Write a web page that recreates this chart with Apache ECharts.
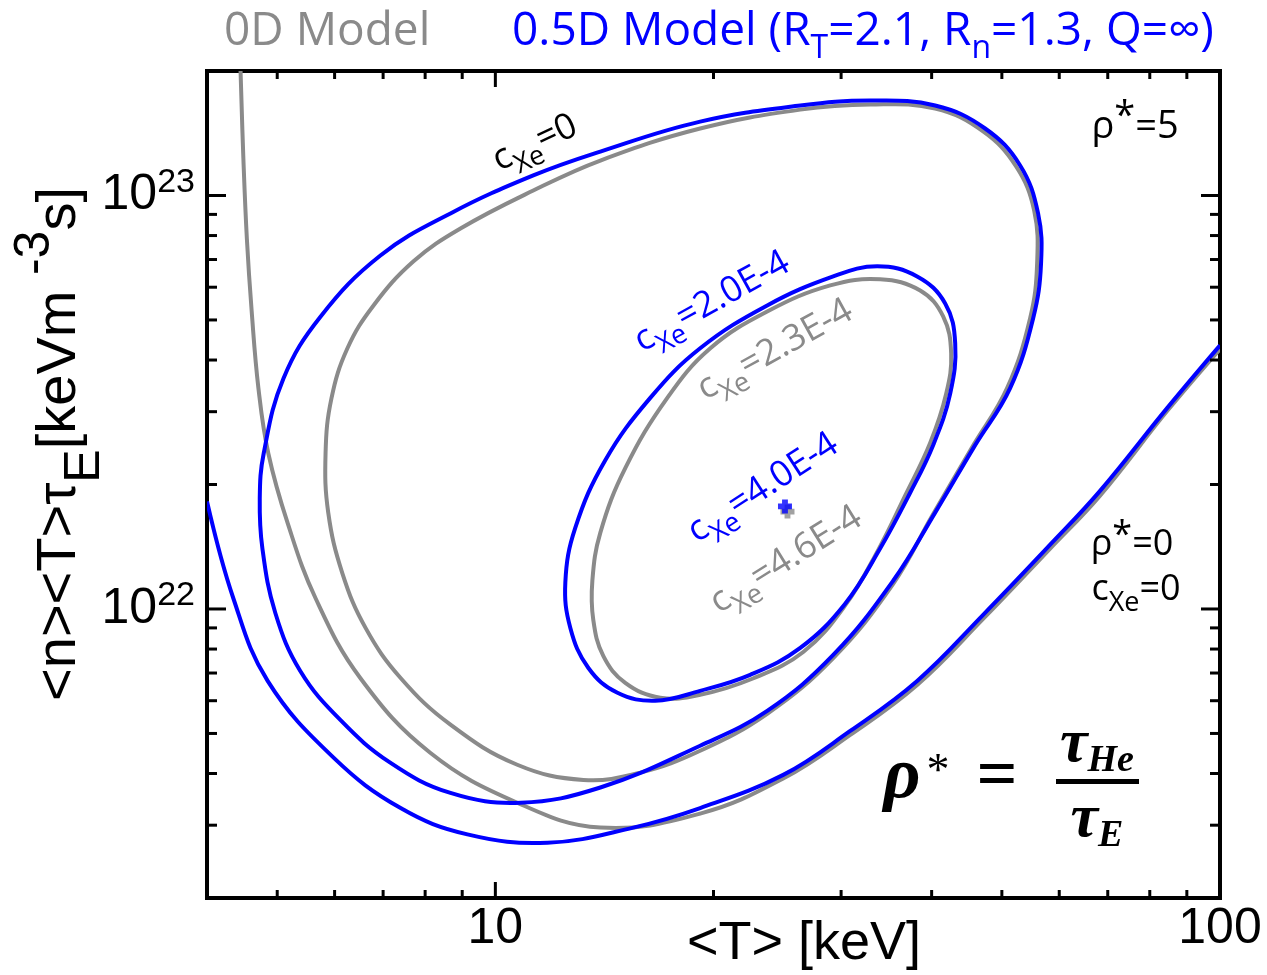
<!DOCTYPE html>
<html><head><meta charset="utf-8">
<script src="https://cdn.jsdelivr.net/npm/echarts@6/dist/echarts.min.js"></script>
<style>html,body{margin:0;padding:0;background:#fff}#c{width:1267px;height:975px}</style>
</head><body><div id="c"></div>
<script>
// ---------------- data (T in keV, n<T>tau_E in keV m^-3 s) ----------------
const blueRho0 = [[4.00,1.82e22],[4.35,1.06e22],[4.85,6.70e21],[5.98,4.37e21],[7.40,3.30e21],[9.15,2.85e21],[11.80,2.72e21],[15.50,2.96e21],[19.17,3.30e21],[24.96,3.97e21],[30.88,5.07e21],[38.20,6.70e21],[47.11,9.68e21],[58.29,1.43e22],[68.31,1.93e22],[84.53,3.06e22],[100,4.34e22]];
const grayRho0 = [[4.45,2.0e23],[4.49,1.23e23],[4.54,7.87e22],[4.61,5.25e22],[4.71,3.42e22],[4.86,2.38e22],[5.17,1.61e22],[5.65,1.06e22],[6.51,6.81e21],[8.13,4.49e21],[10.72,3.40e21],[13.96,2.96e21],[19.17,3.20e21],[24.96,3.89e21],[30.88,4.96e21],[38.20,6.55e21],[47.11,9.46e21],[58.29,1.40e22],[68.31,1.88e22],[84.53,3.01e22],[100,4.25e22]];
const blueRho5 = [[11.28,1.118e23],[13.96,1.277e23],[19.17,1.509e23],[26.35,1.650e23],[32.91,1.696e23],[40.45,1.650e23],[47.41,1.452e23],[52.99,1.182e23],[56.10,9.05e22],[56.63,6.85e22],[55.23,5.05e22],[51.33,3.42e22],[45.93,2.49e22],[40.45,1.71e22],[35.40,1.17e22],[29.26,7.74e21],[23.72,5.67e21],[19.17,4.67e21],[13.96,3.70e21],[10.83,3.40e21],[8.67,3.59e21],[7.16,4.25e21],[6.11,5.39e21],[5.38,7.08e21],[4.97,9.78e21],[4.77,1.40e22],[4.73,1.85e22],[4.79,2.38e22],[5.10,3.61e22],[5.74,5.10e22],[6.94,7.16e22],[8.67,9.05e22],[11.28,1.118e23]];
const grayRho5 = [[11.28,1.028e23],[13.96,1.215e23],[19.17,1.452e23],[26.35,1.613e23],[32.91,1.659e23],[40.45,1.622e23],[47.11,1.428e23],[52.32,1.175e23],[55.40,9.20e22],[55.93,6.85e22],[54.70,5.05e22],[50.84,3.42e22],[45.49,2.46e22],[40.07,1.68e22],[35.40,1.15e22],[29.26,7.61e21],[23.72,5.58e21],[19.17,4.54e21],[15.85,4.02e21],[13.23,3.86e21],[10.72,4.20e21],[8.67,5.25e21],[7.40,6.81e21],[6.62,9.00e21],[6.15,1.22e22],[5.88,1.71e22],[5.83,2.38e22],[5.94,3.23e22],[6.25,4.27e22],[6.79,5.42e22],[7.71,6.93e22],[8.95,8.32e22],[11.28,1.028e23]];
const blueXe20 = [[16.36,3.24e22],[19.17,4.27e22],[23.72,5.42e22],[29.26,6.37e22],[33.65,6.74e22],[38.20,6.37e22],[41.76,5.48e22],[43.11,4.39e22],[42.43,3.32e22],[40.19,2.49e22],[37.36,1.91e22],[33.96,1.40e22],[30.39,1.03e22],[26.35,8.05e21],[22.47,6.93e21],[19.17,6.34e21],[16.62,6.00e21],[14.74,6.27e21],[13.44,7.20e21],[12.69,9.00e21],[12.49,1.16e22],[12.89,1.57e22],[14.18,2.29e22],[16.36,3.24e22]];
const grayXe23 = [[17.27,3.24e22],[19.80,4.27e22],[23.72,5.24e22],[28.98,6.06e22],[33.96,6.27e22],[38.57,5.89e22],[41.49,5.10e22],[42.56,4.15e22],[41.90,3.32e22],[39.81,2.52e22],[36.77,1.88e22],[33.76,1.39e22],[30.39,1.02e22],[26.6,7.87e21],[22.62,6.78e21],[19.17,6.20e21],[16.89,6.10e21],[15.11,6.63e21],[14.09,7.70e21],[13.65,9.41e21],[13.61,1.17e22],[13.96,1.53e22],[15.11,2.19e22],[17.27,3.24e22]];
const blueCross = [[25.1,1.77e22]];
const grayCross = [[25.3,1.72e22]];

const xRange = [4, 100];
const yRange = [2e21, 2e23];
const xTickMajor = [10, 100];
const xTickLabels = ['10', '100'];
const xTickMinor = [5,6,7,8,9,20,30,40,50,60,70,80,90];
const yTickMajor = [1e22, 1e23];
const yTickBase = ['10', '10'];
const yTickExp = ['22', '23'];
const yTickMinor = [3e21,4e21,5e21,6e21,7e21,8e21,9e21,2e22,3e22,4e22,5e22,6e22,7e22,8e22,9e22];

// ---------------- styling ----------------
const BLUE = '#0000ff', GRAY = '#8a8a8a', BLACK = '#000000';
const AX = "'Liberation Sans', Arial, sans-serif";
const LF = "'Open Sans', 'Noto Sans', sans-serif";
const SERIF = "'Liberation Serif', 'DejaVu Serif', serif";
const PLUS = 'path://M3.5,0h5v3.5h3.5v5h-3.5v3.5h-5v-3.5h-3.5v-5h3.5z';

const tickSpecs = [];
xTickMajor.forEach(v => tickSpecs.push({a: 'x', v, len: 16}));
xTickMinor.forEach(v => tickSpecs.push({a: 'x', v, len: 8}));
yTickMajor.forEach(v => tickSpecs.push({a: 'y', v, len: 19}));
yTickMinor.forEach(v => tickSpecs.push({a: 'y', v, len: 10}));

function near(a, b) { return Math.abs(Math.log10(a) - Math.log10(b)) < 1e-6; }

function lbl(x, y, deg, text, color, size, sub) {
  return {
    type: 'text', x, y, rotation: deg * Math.PI / 180, silent: true, z: 50,
    style: {
      text, fill: color, fontSize: size, fontFamily: LF, lineHeight: Math.round(size * 1.5),
      align: 'center', verticalAlign: 'middle',
      rich: {
        s: {fontSize: sub, fontFamily: LF, fill: color, lineHeight: sub, verticalAlign: 'bottom'},
        p: {fontSize: size, fontFamily: LF, fill: color, lineHeight: Math.round(size * 1.1), verticalAlign: 'top'}
      }
    }
  };
}

// Smooth curve drawn through the data points, positioned by the chart's own log axes (api.coord).
function curveSeries(name, data, color, closed, z) {
  return {
    name, type: 'custom', data, silent: true, z, clip: true,
    renderItem: (params, api) => {
      if (params.dataIndex !== 0) return null;
      let pts = data.map(p => api.coord(p));
      if (closed) pts = pts.slice(0, -1);
      return {
        type: closed ? 'polygon' : 'polyline',
        shape: {points: pts, smooth: 0.4},
        style: {stroke: color, lineWidth: 4, fill: 'none', lineJoin: 'round'}
      };
    }
  };
}

const chart = echarts.init(document.getElementById('c'), null, {renderer: 'canvas'});
chart.setOption({
  animation: false,
  backgroundColor: '#ffffff',
  grid: {left: 207, top: 71, width: 1013, height: 827, show: true, borderColor: '#000', borderWidth: 4, backgroundColor: 'transparent'},
  xAxis: {
    type: 'log', logBase: 10, min: xRange[0], max: xRange[1],
    axisLine: {show: false}, axisTick: {show: false}, splitLine: {show: false}, minorTick: {show: false},
    axisLabel: {
      margin: 6, fontSize: 50, fontFamily: AX, color: '#000',
      formatter: v => { const i = xTickMajor.findIndex(t => near(t, v)); return i >= 0 ? xTickLabels[i] : ''; }
    }
  },
  yAxis: {
    type: 'log', logBase: 10, min: yRange[0], max: yRange[1],
    axisLine: {show: false}, axisTick: {show: false}, splitLine: {show: false}, minorTick: {show: false},
    axisLabel: {
      margin: 12,
      formatter: v => { const i = yTickMajor.findIndex(t => near(t, v)); return i >= 0 ? '{b|' + yTickBase[i] + '}{s|' + yTickExp[i] + '}' : ''; },
      rich: {
        b: {fontSize: 50, fontFamily: AX, color: '#000', lineHeight: 60},
        s: {fontSize: 34, fontFamily: AX, color: '#000', lineHeight: 18, verticalAlign: 'top'}
      }
    }
  },
  series: [
    curveSeries('0D rho*=0', grayRho0, GRAY, false, 3),
    curveSeries('0D rho*=5', grayRho5, GRAY, true, 3),
    curveSeries('0D cXe=2.3E-4', grayXe23, GRAY, true, 3),
    curveSeries('0.5D rho*=0', blueRho0, BLUE, false, 4),
    curveSeries('0.5D rho*=5', blueRho5, BLUE, true, 4),
    curveSeries('0.5D cXe=2.0E-4', blueXe20, BLUE, true, 4),
    {type: 'scatter', data: grayCross, symbol: PLUS, symbolSize: 14, itemStyle: {color: GRAY}, silent: true, z: 5},
    {type: 'scatter', data: blueCross, symbol: PLUS, symbolSize: 14, itemStyle: {color: BLUE}, silent: true, z: 6},
    {
      type: 'custom', silent: true, z: 10, clip: false,
      data: tickSpecs.map(t => t.a === 'x' ? [t.v, yRange[0]] : [xRange[0], t.v]),
      renderItem: (params, api) => {
        const t = tickSpecs[params.dataIndex];
        const st = {stroke: '#000', lineWidth: 3};
        if (t.a === 'x') {
          const b = api.coord([t.v, yRange[0]]), tp = api.coord([t.v, yRange[1]]);
          return {type: 'group', children: [
            {type: 'line', shape: {x1: b[0], y1: b[1], x2: b[0], y2: b[1] - t.len}, style: st},
            {type: 'line', shape: {x1: tp[0], y1: tp[1], x2: tp[0], y2: tp[1] + t.len}, style: st}
          ]};
        }
        const l = api.coord([xRange[0], t.v]), r = api.coord([xRange[1], t.v]);
        return {type: 'group', children: [
          {type: 'line', shape: {x1: l[0], y1: l[1], x2: l[0] + t.len, y2: l[1]}, style: st},
          {type: 'line', shape: {x1: r[0], y1: r[1], x2: r[0] - t.len, y2: r[1]}, style: st}
        ]};
      }
    }
  ],
  graphic: {elements: [
    // titles
    {type: 'text', x: 224, y: 32, silent: true, style: {text: '0D Model', fill: GRAY, fontSize: 46, fontFamily: LF, align: 'left', verticalAlign: 'middle'}},
    {type: 'text', x: 512, y: 32, silent: true, style: {
      text: '0.5D Model (R{s|T}=2.1, R{s|n}=1.3, Q=∞)', fill: BLUE, fontSize: 46, fontFamily: LF, lineHeight: 66,
      align: 'left', verticalAlign: 'middle',
      rich: {s: {fontSize: 32, fontFamily: LF, fill: BLUE, lineHeight: 32, verticalAlign: 'bottom'}}
    }},
    // axis titles
    {type: 'text', x: 804, y: 944, silent: true, style: {text: '<T> [keV]', fill: '#000', fontSize: 54, fontFamily: AX, align: 'center', verticalAlign: 'middle'}},
    {type: 'text', x: 60, y: 444, rotation: Math.PI / 2, silent: true, style: {
      text: '<n><T>τ{e|E}[keVm {p|-3}s]', fill: '#000', fontSize: 56, fontFamily: AX, lineHeight: 100,
      align: 'center', verticalAlign: 'middle',
      rich: {
        e: {fontSize: 50, fontFamily: AX, fill: '#000', lineHeight: 52, verticalAlign: 'bottom'},
        p: {fontSize: 50, fontFamily: AX, fill: '#000', lineHeight: 40, verticalAlign: 'top'}
      }
    }},
    // curve labels
    lbl(535, 143, 25, 'c{s|Xe}=0', BLACK, 36, 27),
    lbl(712, 302, 29, 'c{s|Xe}=2.0E-4', BLUE, 36, 27),
    lbl(775, 350, 29, 'c{s|Xe}=2.3E-4', GRAY, 36, 27),
    lbl(763, 488, 33, 'c{s|Xe}=4.0E-4', BLUE, 36, 27),
    lbl(786, 560, 32, 'c{s|Xe}=4.6E-4', GRAY, 36, 27),
    lbl(1135, 127, 0, 'ρ{p|*}=5', BLACK, 38, 28),
    lbl(1132, 545, 0, 'ρ{p|*}=0', BLACK, 36, 27),
    lbl(1136, 590, 0, 'c{s|Xe}=0', BLACK, 36, 27),
    // formula rho* = tau_He / tau_E
    {type: 'text', x: 902, y: 778, silent: true, style: {text: 'ρ', fill: '#000', fontSize: 72, fontFamily: SERIF, fontWeight: 'bold', fontStyle: 'italic', align: 'center', verticalAlign: 'middle'}},
    {type: 'text', x: 938, y: 773, silent: true, style: {text: '*', fill: '#000', fontSize: 46, fontFamily: SERIF, align: 'center', verticalAlign: 'middle'}},
    {type: 'text', x: 997, y: 778, silent: true, style: {text: '=', fill: '#000', fontSize: 72, fontFamily: SERIF, fontWeight: 'bold', align: 'center', verticalAlign: 'middle'}},
    {type: 'rect', silent: true, shape: {x: 1056, y: 779, width: 83, height: 5}, style: {fill: '#000'}},
    {type: 'text', x: 1097, y: 745, silent: true, style: {
      text: '{t|τ}{h|He}', align: 'center', verticalAlign: 'middle',
      rich: {
        t: {fontSize: 62, fontFamily: SERIF, fontWeight: 'bold', fontStyle: 'italic', fill: '#000', lineHeight: 70},
        h: {fontSize: 38, fontFamily: SERIF, fontWeight: 'bold', fontStyle: 'italic', fill: '#000', lineHeight: 38, verticalAlign: 'bottom'}
      }
    }},
    {type: 'text', x: 1097, y: 820, silent: true, style: {
      text: '{t|τ}{h|E}', align: 'center', verticalAlign: 'middle',
      rich: {
        t: {fontSize: 62, fontFamily: SERIF, fontWeight: 'bold', fontStyle: 'italic', fill: '#000', lineHeight: 70},
        h: {fontSize: 38, fontFamily: SERIF, fontWeight: 'bold', fontStyle: 'italic', fill: '#000', lineHeight: 38, verticalAlign: 'bottom'}
      }
    }}
  ]}
});
</script>
</body></html>
